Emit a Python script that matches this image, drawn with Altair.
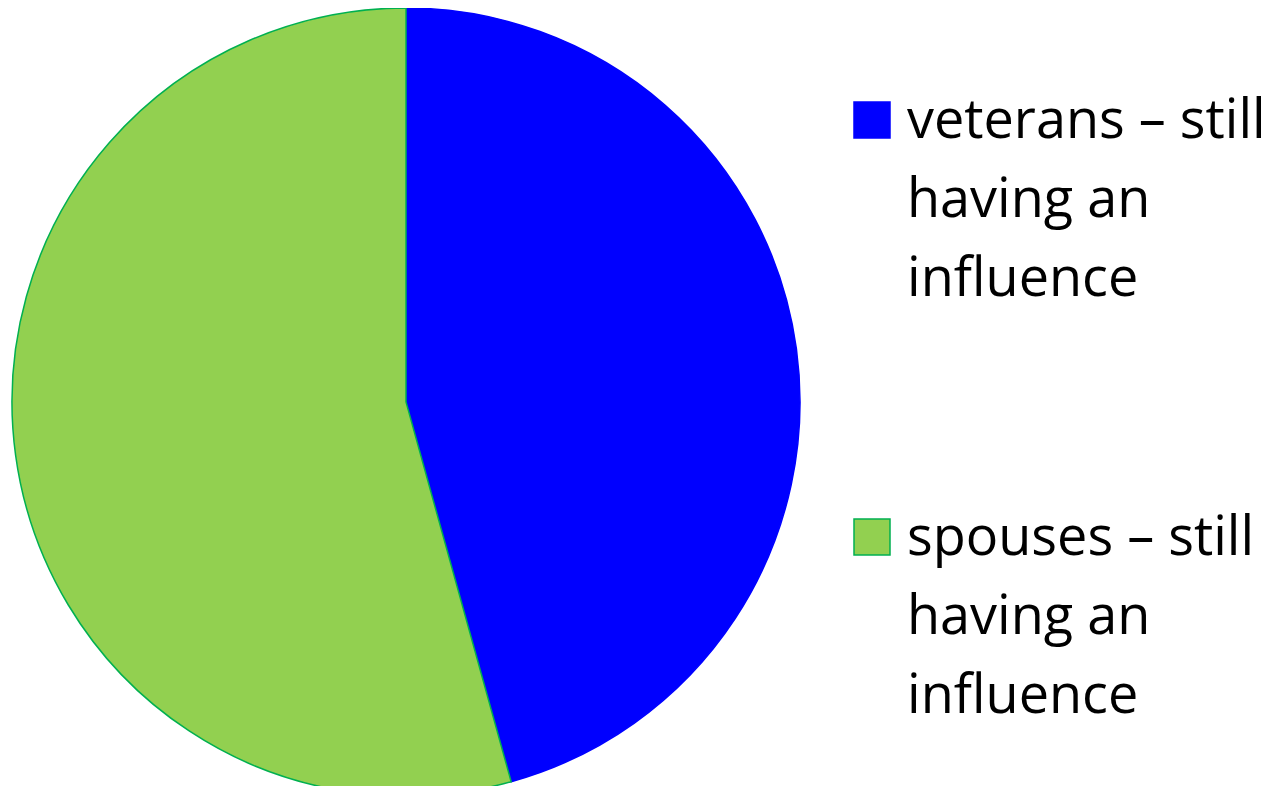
import altair as alt
import pandas as pd

categories = ["veterans – still having an influence", "spouses – still having an influence"]
values = [45.7, 54.3]
order = [1, 2]
fills = ["#0000FF", "#92D050"]
strokes = ["#0000FF", "#00B050"]

df = pd.DataFrame({"cat": categories, "value": values, "order": order})

leg = dict(
    orient="none",
    legendX=837,
    legendY=85,
    padding=0,
    title=None,
    symbolType="square",
    symbolSize=1296,
    symbolStrokeWidth=1.5,
    labelFont="Open Sans",
    labelFontSize=54,
    labelColor="#000000",
    labelOffset=8,
    labelLimit=0,
    labelBaseline="top",
    labelExpr="datum.label == '" + categories[0] + "' ? ['veterans – still', 'having an', 'influence'] : ['spouses – still', 'having an', 'influence']",
    rowPadding=203,
    symbolOpacity=1,
)

chart = alt.Chart(df).mark_arc(radius=394, strokeWidth=1.5).encode(
    theta=alt.Theta("value:Q", stack=True),
    order=alt.Order("order:Q"),
    color=alt.Color("cat:N", scale=alt.Scale(domain=categories, range=fills), legend=alt.Legend(**leg)),
    stroke=alt.Stroke("cat:N", scale=alt.Scale(domain=categories, range=strokes), legend=alt.Legend(**leg)),
    x=alt.value(398),
    y=alt.value(394),
).properties(
    width=1269, height=778, padding=0, autosize=alt.AutoSizeParams(type="none")
).configure(
    style={"guide-label": {"lineHeight": 79, "dy": -25}}
).configure_view(stroke=None)

chart.save("out.html", embed_options={"renderer": "svg", "actions": False})
